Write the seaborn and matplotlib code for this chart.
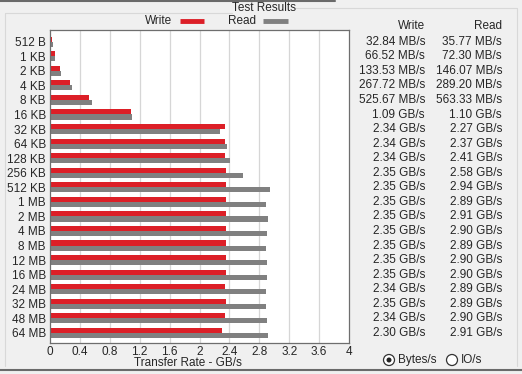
import matplotlib
matplotlib.use("Agg")
import matplotlib.pyplot as plt
import matplotlib.patches as mpatches
from matplotlib.lines import Line2D
import numpy as np
import pandas as pd
import seaborn as sns

# block sizes tested (top to bottom)
sizes = ["512 B", "1 KB", "2 KB", "4 KB", "8 KB", "16 KB", "32 KB", "64 KB",
         "128 KB", "256 KB", "512 KB", "1 MB", "2 MB", "4 MB", "8 MB",
         "12 MB", "16 MB", "24 MB", "32 MB", "48 MB", "64 MB"]

# transfer rates in MB/s, as shown in the result columns
write_mbs = [32.84, 66.52, 133.53, 267.72, 525.67, 1090, 2340, 2340,
             2340, 2350, 2350, 2350, 2350, 2350, 2350,
             2350, 2350, 2340, 2350, 2340, 2300]
read_mbs = [35.77, 72.30, 146.07, 289.20, 563.33, 1100, 2270, 2370,
            2410, 2580, 2940, 2890, 2910, 2900, 2890,
            2900, 2900, 2890, 2890, 2900, 2910]

x_ticks = [0, 0.4, 0.8, 1.2, 1.6, 2, 2.4, 2.8, 3.2, 3.6, 4]
x_tick_labels = ["0", "0.4", "0.8", "1.2", "1.6", "2", "2.4", "2.8", "3.2", "3.6", "4"]

W, H = 522, 374
BG = "#f0f0f0"
RED = "#dc1f27"
GREY = "#808080"

sns.set_style("white")
plt.rcParams["font.family"] = ["Liberation Sans", "DejaVu Sans"]
plt.rcParams["font.size"] = 8


def fx(x):
    return x / W


def fy(y):
    return 1 - y / H


def fmt(v):
    if v < 1000:
        return "%.2f MB/s" % v
    return "%.2f GB/s" % (v / 1000)


df = pd.DataFrame({
    "size": sizes * 2,
    "kind": ["Write"] * len(sizes) + ["Read"] * len(sizes),
    "rate": [v / 1000 for v in write_mbs] + [v / 1000 for v in read_mbs],
})

fig = plt.figure(figsize=(W / 100, H / 100), dpi=100)
fig.patch.set_facecolor(BG)
ax = fig.add_axes([fx(50), fy(343), fx(349) - fx(50), fy(30) - fy(343)])
ax.set_facecolor("white")

sns.barplot(data=df, y="size", x="rate", hue="kind", hue_order=["Write", "Read"],
            palette=[RED, GREY], orient="h", width=0.7, dodge=True,
            saturation=1, legend=False, ax=ax, linewidth=0, order=sizes)

ax.set_xlim(0, 4)
ax.set_ylim(20.69, -0.8)
ax.set_xticks(x_ticks)
ax.set_xticklabels(x_tick_labels, fontsize=8.5)
ax.tick_params(axis="x", length=0, pad=2)
ax.tick_params(axis="y", length=0, labelsize=8.5, pad=3)
for g in x_ticks[1:-1]:
    ax.axvline(g, color="#d6d6d6", lw=0.9, zorder=0)
ax.set_axisbelow(True)
ax.set_xlabel("")
ax.set_ylabel("")
for s in ax.spines.values():
    s.set_visible(True)
    s.set_color("#6e6e6e")
    s.set_linewidth(0.9)
fig.text(fx(188), fy(363), "Transfer Rate - GB/s", ha="center", va="center", fontsize=8.5)

# title and legend
fig.text(fx(264), fy(8), "Test Results", ha="center", va="center", fontsize=8.5)
fig.text(fx(172), fy(21), "Write", ha="right", va="center", fontsize=8.5)
fig.add_artist(Line2D([fx(180), fx(204)], [fy(21), fy(21)], color=RED, lw=3.5,
                      solid_capstyle="butt"))
fig.text(fx(256), fy(21), "Read", ha="right", va="center", fontsize=8.5)
fig.add_artist(Line2D([fx(263), fx(288)], [fy(21), fy(21)], color=GREY, lw=3.5,
                      solid_capstyle="butt"))

# results columns
fig.text(fx(425), fy(26), "Write", ha="right", va="center", fontsize=8.5)
fig.text(fx(502), fy(26), "Read", ha="right", va="center", fontsize=8.5)
row0, step = 41.7, (333 - 41.7) / 20
for i in range(len(sizes)):
    y = row0 + i * step
    fig.text(fx(425), fy(y), fmt(write_mbs[i]), ha="right", va="center", fontsize=8.5)
    fig.text(fx(502), fy(y), fmt(read_mbs[i]), ha="right", va="center", fontsize=8.5)

# radio buttons
for cx, checked in [(389, True), (452, False)]:
    fig.add_artist(mpatches.Ellipse((fx(cx), fy(360)), 11 / W, 11 / H,
                                    facecolor="white", edgecolor="#333333", lw=0.9))
    if checked:
        fig.add_artist(mpatches.Ellipse((fx(cx), fy(360)), 5 / W, 5 / H,
                                        facecolor="#222222", edgecolor="none"))
fig.text(fx(398), fy(360), "Bytes/s", ha="left", va="center", fontsize=8.5)
fig.text(fx(461), fy(360), "IO/s", ha="left", va="center", fontsize=8.5)

# window frame lines
fig.add_artist(Line2D([0, fx(335)], [fy(0.5), fy(0.5)], color="#6a6a6a", lw=1.5))
fig.add_artist(Line2D([fx(5), fx(232)], [fy(13), fy(13)], color="#d8d8d8", lw=0.8))
fig.add_artist(Line2D([fx(296), fx(517)], [fy(8), fy(8)], color="#d8d8d8", lw=0.8))
fig.add_artist(Line2D([fx(5), fx(5)], [fy(13), fy(366)], color="#d8d8d8", lw=0.8))
fig.add_artist(Line2D([fx(517), fx(517)], [fy(8), fy(366)], color="#d8d8d8", lw=0.8))
fig.add_artist(Line2D([0, 1], [fy(369.5), fy(369.5)], color="#6a6a6a", lw=1.5))

fig.savefig("out.png", dpi=100, facecolor=BG)
